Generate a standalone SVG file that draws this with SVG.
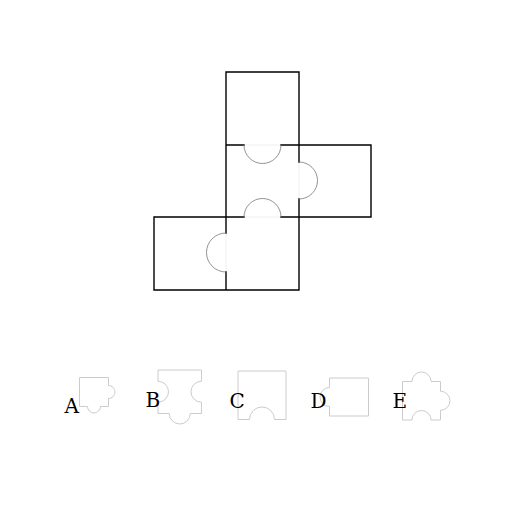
<svg xmlns="http://www.w3.org/2000/svg" width="512" height="512" viewBox="0 0 512 512">
<style>
.edge{fill:none;stroke:#000;stroke-width:1.4;stroke-linecap:square}
.tab{fill:none;stroke:#777;stroke-width:0.8}
.faint{fill:none;stroke:#eeeeee;stroke-width:1}
.opt{fill:#fff;stroke:#cccccc;stroke-width:1}
.lbl{font-family:"DejaVu Serif",serif;font-size:20px;fill:#000}
</style>
<rect width="512" height="512" fill="#fff"/>
<g id="puzzle">
<path class="faint" d="M244,145 H281 M299,162 V199 M244,217 H281 M226,233 V272"/>
<path class="edge" d="M226,145 V72 H299 V162 M299,199 V290 H154 V217 H244 M281,217 H371 V145 H281 M244,145 H226 V233 M226,272 V290"/>
<path class="tab" d="M244,145 A18.5,18.5 0 0 0 281,145 M299,162 A18.5,18.5 0 0 1 299,199 M244,217 A18.5,18.5 0 0 1 281,217 M226,233 A19.5,19.5 0 0 0 226,272"/>
</g>
<g id="optA">
<path class="opt" d="M79.5,377.5 H108.5 V385.5 A6.5,6.5 0 0 1 108.5,398.5 V406.5 H100.5 A6.5,6.5 0 0 1 87.5,406.5 H79.5 Z"/>
<text class="lbl" x="64.5" y="412.5">A</text>
</g>
<g id="optB">
<path class="opt" d="M158,370 H201.5 V381.25 A10.5,10.5 0 0 0 201.5,402.25 V413.5 H190.25 A10.5,10.5 0 0 1 169.25,413.5 H158 V402.25 A10.5,10.5 0 0 0 158,381.25 Z"/>
<text class="lbl" x="145.5" y="407">B</text>
</g>
<g id="optC">
<path class="opt" d="M238,371 H286 V419.5 H274.5 A12.5,12.5 0 0 0 249.5,419.5 H238 Z"/>
<text class="lbl" x="229.5" y="407.5">C</text>
</g>
<g id="optD">
<path class="opt" d="M329.5,378 H368.5 V416 H329.5 V406.5 A9.5,9.5 0 0 1 329.5,387.5 Z"/>
<text class="lbl" x="310.5" y="407.5">D</text>
</g>
<g id="optE">
<path class="opt" d="M402.5,381.5 H412 A9.5,9.5 0 0 1 431,381.5 H440.5 V391.25 A9.5,9.5 0 0 1 440.5,410.25 V420 H431 A9.5,9.5 0 0 0 412,420 H402.5 Z"/>
<text class="lbl" x="392.5" y="407.5">E</text>
</g>
</svg>
